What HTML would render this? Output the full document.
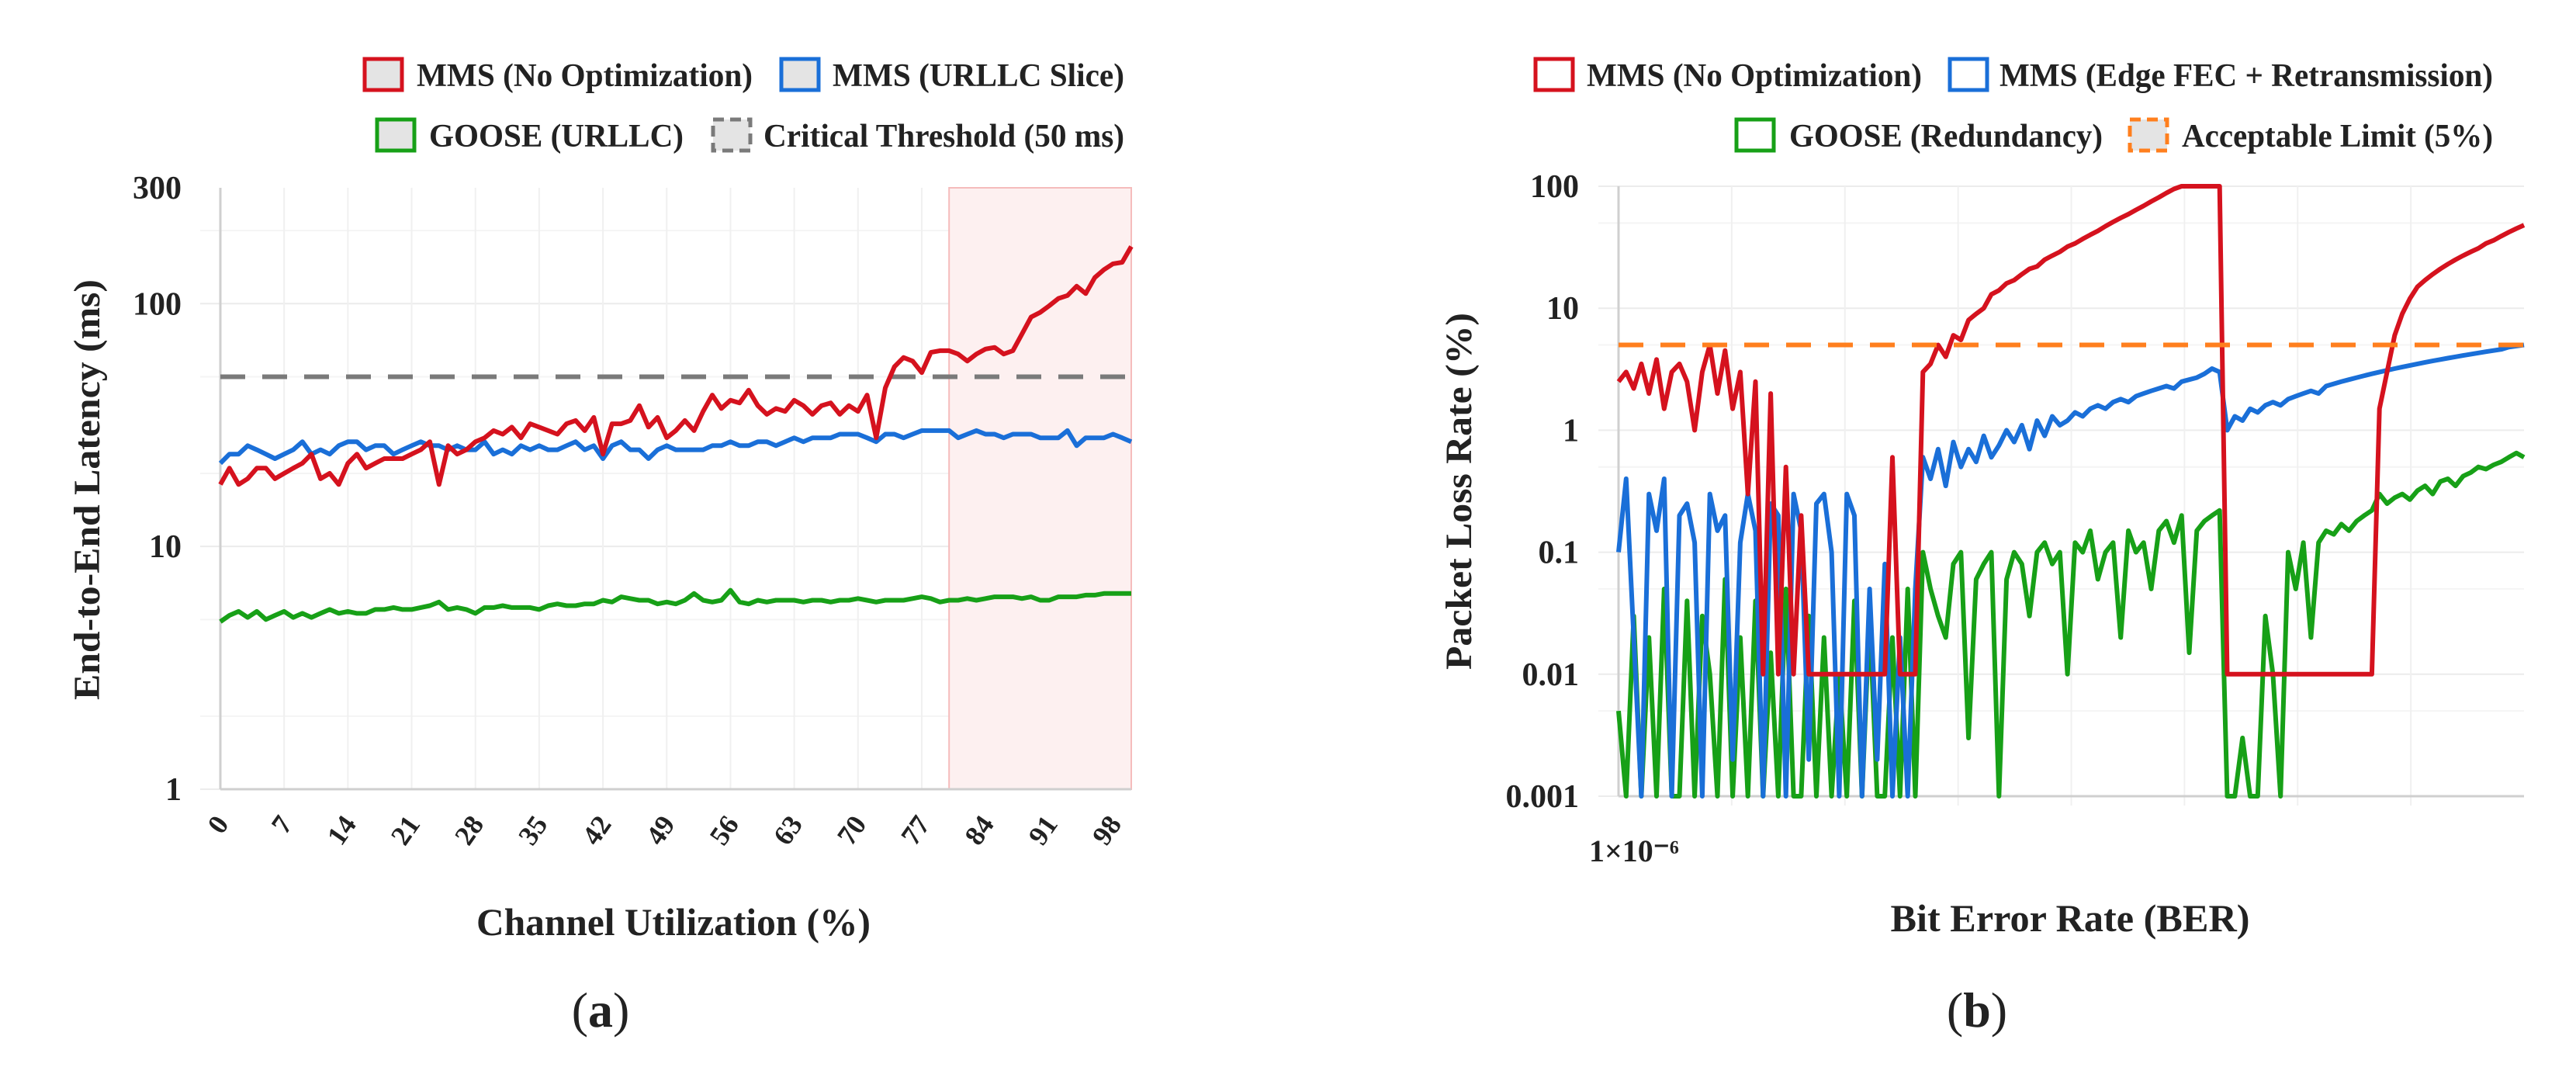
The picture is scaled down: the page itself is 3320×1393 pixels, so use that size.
<!DOCTYPE html>
<html><head><meta charset="utf-8"><style>
html,body{margin:0;padding:0;background:#fff}
svg{display:block}
text{font-family:"Liberation Serif",serif;font-weight:bold;fill:#222}
</style></head><body>
<svg id="fig" width="3320" height="1393" viewBox="0 0 3320 1393" xmlns="http://www.w3.org/2000/svg">
<g id="chartA"></g>
<g id="chartB"></g>
</svg>
<script>
// ---- Chart (a) data ----
const utilCategories = [];
for (let i = 0; i <= 100; i++) utilCategories.push(i);
const utilTickLabels = ["0","7","14","21","28","35","42","49","56","63","70","77","84","91","98"];
const latencyTickLabels = ["1","10","100","300"];
const latencyTickValues = [1,10,100,300];
const mmsNoOpt = [18,21,18,19,21,21,19,20,21,22,
24,19,20,18,22,24,21,22,23,23,
23,24,25,27,18,26,24,25,27,28,
30,29,31,28,32,31,30,29,32,33,
30,34,24,32,32,33,38,31,34,28,
30,33,30,36,42,37,40,39,44,38,
35,37,36,40,38,35,38,39,35,38,
36,42,28,45,55,60,58,52,63,64,
64,62,58,62,65,66,62,64,75,88,
92,98,105,108,118,110,128,138,146,148,172];
const mmsUrllc = [22,24,24,26,25,24,23,24,25,27,
24,25,24,26,27,27,25,26,26,24,
25,26,27,26,26,25,26,25,25,27,
24,25,24,26,25,26,25,25,26,27,
25,26,23,26,27,25,25,23,25,26,
25,25,25,25,26,26,27,26,26,27,
27,26,27,28,27,28,28,28,29,29,
29,28,27,29,29,28,29,30,30,30,
30,28,29,30,29,29,28,29,29,29,
28,28,28,30,26,28,28,28,29,28,27];
const gooseUrllc = [4.9,5.2,5.4,5.1,5.4,5.0,5.2,5.4,5.1,5.3,
5.1,5.3,5.5,5.3,5.4,5.3,5.3,5.5,5.5,5.6,
5.5,5.5,5.6,5.7,5.9,5.5,5.6,5.5,5.3,5.6,
5.6,5.7,5.6,5.6,5.6,5.5,5.7,5.8,5.7,5.7,
5.8,5.8,6.0,5.9,6.2,6.1,6.0,6.0,5.8,5.9,
5.8,6.0,6.4,6.0,5.9,6.0,6.6,5.9,5.8,6.0,
5.9,6.0,6.0,6.0,5.9,6.0,6.0,5.9,6.0,6.0,
6.1,6.0,5.9,6.0,6.0,6.0,6.1,6.2,6.1,5.9,
6.0,6.0,6.1,6.0,6.1,6.2,6.2,6.2,6.1,6.2,
6.0,6.0,6.2,6.2,6.2,6.3,6.3,6.4,6.4,6.4,6.4];
const criticalThreshold = [50];
const criticalZone = [80,100];

// ---- Chart (b) data ----
const lossTickLabels = ["0.001","0.01","0.1","1","10","100"];
const lossTickValues = [0.001,0.01,0.1,1,10,100];
const berTickLabels = ["1×10⁻⁶"];
const plrMmsNoOpt = [2.5,3,2.2,3.5,2,3.8,1.5,3,3.5,2.5,1,3,5,2,4.5,1.5,3,
0.3,2.5,0.01,2,0.01,
0.5,0.01,0.2,0.01,0.01,0.01,0.01,0.01,0.01,0.01,0.01,0.01,0.01,0.01,0.6,0.01,0.01,0.01,
3,3.5,5,4,6,5.5,8,9,10,13,14,16,17,19,21,22,25,27,29,32,34,37,40,43,47,51,55,59,64,69,75,81,88,95,
100,100,100,100,100,100,
0.01,0.01,0.01,0.01,0.01,0.01,0.01,0.01,0.01,0.01,0.01,0.01,0.01,0.01,0.01,0.01,0.01,0.01,0.01,0.01,
1.5,3,6,9,12,15,17,19,21,23,25,27,29,31,34,36,39,42,45,48];
const plrMmsFec = [0.1,0.4,0.02,0.001,0.3,0.15,0.4,0.001,0.2,0.25,0.12,0.001,0.3,0.15,0.2,0.002,0.12,0.3,0.15,0.001,
0.25,0.2,0.001,0.3,0.15,0.002,0.25,0.3,0.1,0.001,0.3,0.2,0.001,0.05,0.002,0.08,0.001,0.02,0.001,0.05,
0.6,0.4,0.7,0.35,0.8,0.5,0.7,0.55,0.9,0.6,0.75,1.0,0.8,1.1,0.7,1.2,0.9,1.3,1.1,1.2,
1.4,1.3,1.5,1.6,1.5,1.7,1.8,1.7,1.9,2.0,2.1,2.2,2.3,2.2,2.5,2.6,2.7,2.9,3.2,3.0,
1.0,1.3,1.2,1.5,1.4,1.6,1.7,1.6,1.8,1.9,2.0,2.1,2.0,2.3,2.4,2.5,2.6,2.7,2.8,2.9,
3.0,3.1,3.2,3.3,3.4,3.5,3.6,3.7,3.8,3.9,4.0,4.1,4.2,4.3,4.4,4.5,4.6,4.8,4.9,5.0];
const plrGoose = [0.005,0.001,0.03,0.001,0.02,0.001,0.05,0.001,0.001,0.04,0.001,0.03,0.01,0.001,0.06,0.001,0.02,0.001,0.04,0.001,
0.015,0.001,0.05,0.001,0.001,0.03,0.001,0.02,0.001,0.01,0.001,0.04,0.001,0.03,0.001,0.001,0.02,0.001,0.05,0.001,
0.1,0.05,0.03,0.02,0.08,0.1,0.003,0.06,0.08,0.1,0.001,0.06,0.1,0.08,0.03,0.1,0.12,0.08,0.1,0.01,
0.12,0.1,0.15,0.06,0.1,0.12,0.02,0.15,0.1,0.12,0.05,0.15,0.18,0.12,0.2,0.015,0.15,0.18,0.2,0.22,
0.001,0.001,0.003,0.001,0.001,0.03,0.01,0.001,0.1,0.05,0.12,0.02,0.12,0.15,0.14,0.17,0.15,0.18,0.2,0.22,
0.3,0.25,0.28,0.3,0.27,0.32,0.35,0.3,0.38,0.4,0.35,0.42,0.45,0.5,0.48,0.52,0.55,0.6,0.65,0.6];
const acceptableLimit = [5];

const NS = "http://www.w3.org/2000/svg";
function mk(parent, tag, attrs, txt) {
  const e = document.createElementNS(NS, tag);
  for (const k in attrs) e.setAttribute(k, attrs[k]);
  if (txt !== undefined) e.textContent = txt;
  parent.appendChild(e);
  return e;
}
const RED = "#d5121e", BLUE = "#1a6fd8", GREEN = "#17a017", GREY = "#7a7a7a", ORANGE = "#ff7f1e";

// ===== Chart A =====
const gA = document.getElementById("chartA");
const A = {x0: 284, x1: 1458, y0: 242, y1: 1017, lmin: 0, lmax: Math.log10(300)};
const ax = v => A.x0 + (v - utilCategories[0]) / (utilCategories[utilCategories.length-1] - utilCategories[0]) * (A.x1 - A.x0);
const ay = v => A.y1 - (Math.log10(v) - A.lmin) / (A.lmax - A.lmin) * (A.y1 - A.y0);

for (let d = 1; d <= 100; d *= 10) {
  [1,2,5].forEach(m => {
    const v = d*m; if (v > 300) return;
    const l = mk(gA, "line", {x1:A.x0-26, x2:A.x1, y1:ay(v), y2:ay(v), stroke: m===1?"#ececec":"#f4f4f4", "stroke-width":2});
    
    
  });
}
utilTickLabels.forEach(t => {
  const x = ax(+t);
  const l = mk(gA, "line", {x1:x, x2:x, y1:A.y0, y2:A.y1, stroke:"#f0f0f0", "stroke-width":2});
  
  
});
const zone = mk(gA, "rect", {x:ax(criticalZone[0]), y:A.y0, width:ax(criticalZone[1])-ax(criticalZone[0]), height:A.y1-A.y0, fill:"#fdf0f0", stroke:"#f5bcbc", "stroke-width":2});


const axA1 = mk(gA, "line", {x1:A.x0, x2:A.x0, y1:A.y0, y2:A.y1, stroke:"#cfcfcf", "stroke-width":3});


const axA2 = mk(gA, "line", {x1:A.x0, x2:A.x1, y1:A.y1, y2:A.y1, stroke:"#cfcfcf", "stroke-width":3});


const th = mk(gA, "line", {x1:A.x0, x2:A.x1, y1:ay(criticalThreshold[0]), y2:ay(criticalThreshold[0]), stroke:GREY, "stroke-width":6, "stroke-dasharray":"32 22"});


function seriesA(vals, color, name) {
  const pts = vals.map((v,i) => ax(utilCategories[i]).toFixed(1)+","+ay(v).toFixed(1)).join(" ");
  const p = mk(gA, "polyline", {points:pts, fill:"none", stroke:color, "stroke-width":6, "stroke-linejoin":"round"});
  
  
}
seriesA(gooseUrllc, GREEN, "goose-urllc-line");
seriesA(mmsUrllc, BLUE, "mms-urllc-line");
seriesA(mmsNoOpt, RED, "mms-no-optimization-line");
latencyTickLabels.forEach((t,i) => {
  const e = mk(gA, "text", {x:234, y:ay(latencyTickValues[i])+14, "text-anchor":"end", "font-size":42}, t);
  
  
});
utilTickLabels.forEach(t => {
  const x = ax(+t), y = 1062;
  const e = mk(gA, "text", {x:x+12, y:y, "text-anchor":"end", "font-size":36, transform:`rotate(-55 ${x+12} ${y})`}, t);
  
  
});
const ytA = mk(gA, "text", {x:0, y:0, "text-anchor":"middle", "font-size":48, textLength:542, lengthAdjust:"spacingAndGlyphs", transform:"translate(128 631) rotate(-90)"}, "End-to-End Latency (ms)");


const xtA = mk(gA, "text", {x:868, y:1205, "text-anchor":"middle", "font-size":50, textLength:508, lengthAdjust:"spacingAndGlyphs"}, "Channel Utilization (%)");


const capA = mk(gA, "text", {x:774, y:1323, "text-anchor":"middle", "font-size":64, "font-weight":"normal"}, "");


mk(capA, "tspan", {"font-weight":"normal"}, "(");
mk(capA, "tspan", {"font-weight":"bold"}, "a");
mk(capA, "tspan", {"font-weight":"normal"}, ")");

function legend(g, bx, by, color, dashed, tx, tw, label) {
  const item = mk(g, "g", {});
  
  
  mk(item, "rect", {x:bx, y:by-20, width:48, height:40, fill: dashed?"#e4e4e4":(g===gA?"#e4e4e4":"#fff"), stroke:color, "stroke-width":5, "stroke-dasharray": dashed?"14 8":"none"});
  mk(item, "text", {x:tx, y:by+15, "font-size":42, textLength:tw, lengthAdjust:"spacingAndGlyphs"}, label);
}
legend(gA, 470, 96, RED, false, 537, 433, "MMS (No Optimization)");
legend(gA, 1007, 96, BLUE, false, 1073, 376, "MMS (URLLC Slice)");
legend(gA, 486, 174, GREEN, false, 553, 328, "GOOSE (URLLC)");
legend(gA, 919, 174, GREY, true, 984, 465, "Critical Threshold (50 ms)");

// ===== Chart B =====
const gB = document.getElementById("chartB");
const B = {x0: 2086, x1: 3253, y0: 240, y1: 1026, lmin: -3, lmax: 2};
const N = plrMmsNoOpt.length;
const bx = i => B.x0 + i / (N - 1) * (B.x1 - B.x0);
const by = v => B.y1 - (Math.log10(v) - B.lmin) / (B.lmax - B.lmin) * (B.y1 - B.y0);
for (let d = 0.001; d <= 100.0001; d *= 10) {
  [1,5].forEach(m => {
    const v = d*m; if (v > 100.0001) return;
    const l = mk(gB, "line", {x1:B.x0-26, x2:B.x1, y1:by(v), y2:by(v), stroke: m===1?"#ececec":"#f4f4f4", "stroke-width":2});
    
    
  });
}
for (let k = 1; k <= 7; k++) {
  const x = B.x0 + k * (B.x1 - B.x0) / 8;
  const l = mk(gB, "line", {x1:x, x2:x, y1:B.y0, y2:B.y1 + 12, stroke:"#f0f0f0", "stroke-width":2});
  
  
}
const axB1 = mk(gB, "line", {x1:B.x0, x2:B.x0, y1:B.y0, y2:B.y1, stroke:"#cfcfcf", "stroke-width":3});


const axB2 = mk(gB, "line", {x1:B.x0, x2:B.x1, y1:B.y1, y2:B.y1, stroke:"#cfcfcf", "stroke-width":3});


function seriesB(vals, color, name) {
  const pts = vals.map((v,i) => bx(i).toFixed(1)+","+by(v).toFixed(1)).join(" ");
  const p = mk(gB, "polyline", {points:pts, fill:"none", stroke:color, "stroke-width":6, "stroke-linejoin":"round"});
  
  
}
seriesB(plrGoose, GREEN, "goose-redundancy-line");
seriesB(plrMmsFec, BLUE, "mms-edge-fec-line");
seriesB(plrMmsNoOpt, RED, "mms-no-optimization-line");
const lim = mk(gB, "line", {x1:B.x0, x2:B.x1, y1:by(acceptableLimit[0]), y2:by(acceptableLimit[0]), stroke:ORANGE, "stroke-width":6, "stroke-dasharray":"32 22"});


lossTickLabels.forEach((t,i) => {
  const e = mk(gB, "text", {x:2035, y:by(lossTickValues[i])+14, "text-anchor":"end", "font-size":42}, t);
  
  
});
const bt = mk(gB, "text", {x:2048, y:1110, "font-size":40, "font-weight":"normal"}, berTickLabels[0]);


const ytB = mk(gB, "text", {x:0, y:0, "text-anchor":"middle", "font-size":48, textLength:460, lengthAdjust:"spacingAndGlyphs", transform:"translate(1896 633) rotate(-90)"}, "Packet Loss Rate (%)");


const xtB = mk(gB, "text", {x:2668, y:1200, "text-anchor":"middle", "font-size":50, textLength:463, lengthAdjust:"spacingAndGlyphs"}, "Bit Error Rate (BER)");


const capB = mk(gB, "text", {x:2548, y:1323, "text-anchor":"middle", "font-size":64}, "");


mk(capB, "tspan", {"font-weight":"normal"}, "(");
mk(capB, "tspan", {"font-weight":"bold"}, "b");
mk(capB, "tspan", {"font-weight":"normal"}, ")");

legend(gB, 1979, 96, RED, false, 2045, 432, "MMS (No Optimization)");
legend(gB, 2513, 96, BLUE, false, 2577, 636, "MMS (Edge FEC + Retransmission)");
legend(gB, 2238, 174, GREEN, false, 2306, 404, "GOOSE (Redundancy)");
legend(gB, 2745, 174, ORANGE, true, 2812, 401, "Acceptable Limit (5%)");
</script>
</body></html>
